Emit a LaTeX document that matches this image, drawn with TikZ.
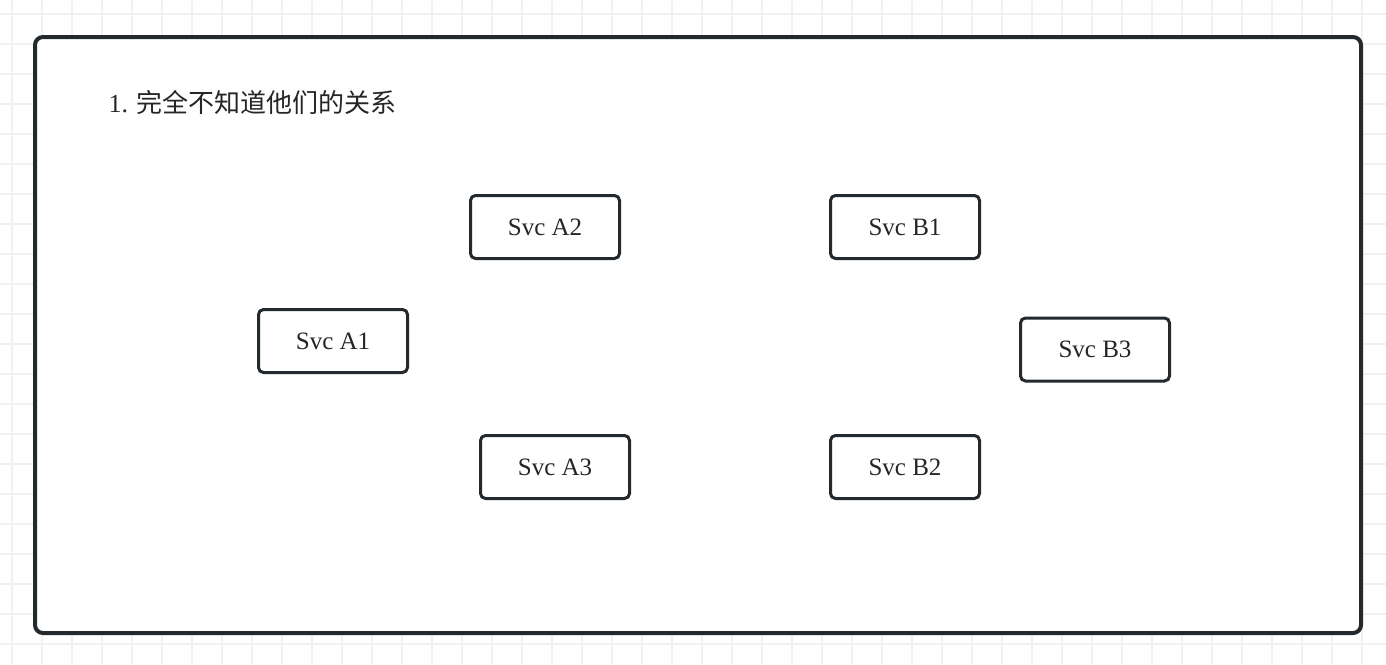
\documentclass[tikz,border=0pt]{standalone}
\usepackage{fontspec}
\setmainfont{Liberation Serif}
\newfontfamily\cjk{Noto Sans CJK SC}
\usepackage{tikz}
\usetikzlibrary{shapes, backgrounds, calc, positioning}
\definecolor{framecol}{HTML}{24292E}
\definecolor{gridcol}{HTML}{F1F1F1}
\tikzstyle{svc} = [rectangle, rounded corners=5pt, minimum width=149pt, minimum height=63pt, text centered, draw=framecol, line width=3pt, fill=white, text=black!85, font=\fontsize{25}{30}\selectfont]
\tikzstyle{frame} = [draw=framecol, line width=4pt, rounded corners=8pt, fill=white]
\tikzstyle{gridline} = [draw=gridcol, line width=1.5pt]
\begin{document}
\begin{tikzpicture}[x=1pt, y=-1pt]
\useasboundingbox (0,0) rectangle (1386,664);
% background grid
\foreach \gx in {12,42,...,1386} \draw [gridline] (\gx,0) -- (\gx,664);
\foreach \gy in {14,44,...,664} \draw [gridline] (0,\gy) -- (1386,\gy);
% outer frame
\draw [frame] (35,37) rectangle (1361,633);
\node (title) [anchor=west, text=black!85, font=\fontsize{26}{30}\selectfont] at (105,102) {1. {\cjk 完全不知道他们的关系}};
% services
\node (a2) [svc] at (545,227) {Svc A2};
\node (b1) [svc] at (905,227) {Svc B1};
\node (a1) [svc] at (333,341) {Svc A1};
\node (b3) [svc] at (1095,349.5) {Svc B3};
\node (a3) [svc] at (555,467) {Svc A3};
\node (b2) [svc] at (905,467) {Svc B2};
\end{tikzpicture}
\end{document}
